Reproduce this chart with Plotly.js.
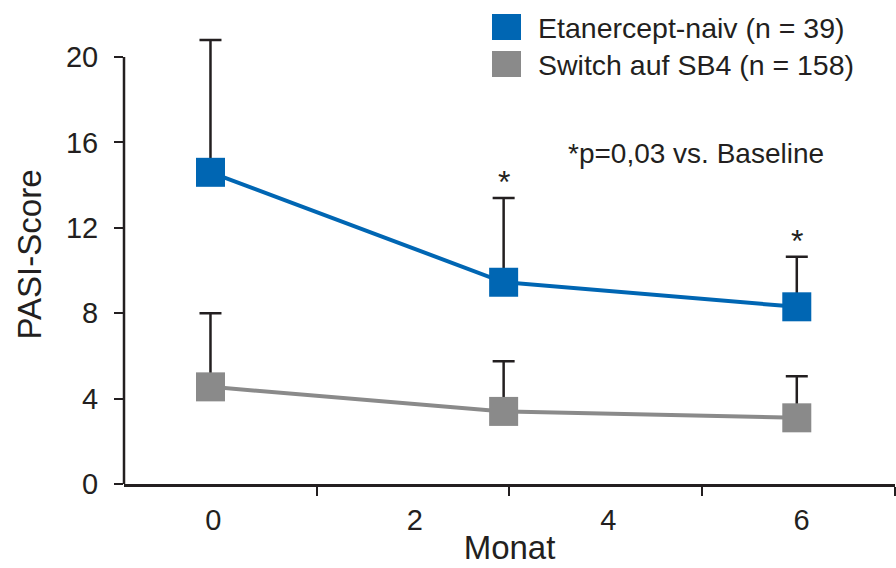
<!DOCTYPE html>
<html>
<head>
<meta charset="utf-8">
<script src="https://cdn.plot.ly/plotly-3.0.1.min.js"></script>
<style>html,body{margin:0;padding:0;background:#fff;}#chart{width:896px;height:568px;}</style>
</head>
<body>
<div id="chart"></div>
<script>
// ---- data ----
var months = [0, 3, 6];
var naivMean = [14.6, 9.45, 8.3];
var naivSD = [6.2, 3.95, 2.35];
var switchMean = [4.55, 3.4, 3.1];
var switchSD = [3.45, 2.35, 1.95];
var seriesNames = ["Etanercept-naiv (n = 39)", "Switch auf SB4 (n = 158)"];
var xTickText = ["0", "2", "4", "6"];
var yTickVals = [0, 4, 8, 12, 16, 20];
var sigMonths = [3, 6];
var noteText = "*p=0,03 vs. Baseline";

// ---- style / layout positions ----
var xLabelPos = [0.03, 2.09, 4.07, 6.05];
var xTickMarkPos = [1.09, 3.05, 5.03, 7.0];
var BLUE = "#0066b3", GRAY = "#8a8a8a", INK = "#231f20";
var FONT = "Liberation Sans, Arial, sans-serif";
var M = {l: 124, r: 1, t: 25, b: 84};
var W = 896, H = 568;
var PW = W - M.l - M.r, PH = H - M.t - M.b;
function px2paperX(px){ return (px - M.l) / PW; }
function px2paperY(py){ return (PH - (py - M.t)) / PH; }

function zeros(a){ return a.map(function(){ return 0; }); }

var traces = [
  {x: months, y: switchMean, mode: "lines+markers", type: "scatter",
   line: {color: GRAY, width: 4}, marker: {symbol: "square", size: 29, color: GRAY},
   error_y: {type: "data", symmetric: false, array: switchSD, arrayminus: zeros(switchSD),
             color: INK, thickness: 2.5, width: 11}, showlegend: false, cliponaxis: false},
  {x: months, y: naivMean, mode: "lines+markers", type: "scatter",
   line: {color: BLUE, width: 4}, marker: {symbol: "square", size: 29, color: BLUE},
   error_y: {type: "data", symmetric: false, array: naivSD, arrayminus: zeros(naivSD),
             color: INK, thickness: 2.5, width: 11}, showlegend: false, cliponaxis: false}
];

var annotations = [];
sigMonths.forEach(function(m){
  var i = months.indexOf(m);
  annotations.push({x: m, y: naivMean[i] + naivSD[i], xref: "x", yref: "y",
    text: "*", showarrow: false, yanchor: "bottom", yshift: -4,
    font: {family: FONT, size: 32, color: INK}});
});
annotations.push({x: px2paperX(696), y: px2paperY(153), xref: "paper", yref: "paper", text: noteText,
  showarrow: false, xanchor: "center", yanchor: "middle",
  font: {family: FONT, size: 28, color: INK}});

// legend (manual, large squares)
var legendColors = [BLUE, GRAY];
var legendY = [27, 64];
var shapes = [];
seriesNames.forEach(function(name, k){
  var yp = legendY[k];
  shapes.push({type: "rect", xref: "paper", yref: "paper",
    x0: px2paperX(492), x1: px2paperX(521),
    y0: px2paperY(yp - 13), y1: px2paperY(yp + 13),
    fillcolor: legendColors[k], line: {width: 0}});
  annotations.push({x: px2paperX(536), y: px2paperY(yp + 1), xref: "paper", yref: "paper",
    text: name, showarrow: false, xanchor: "left", yanchor: "middle",
    font: {family: FONT, size: 28.5, color: INK}});
});

// y axis line from 0 to 20
shapes.push({type: "line", xref: "paper", yref: "y", x0: 0, x1: 0, y0: 0, y1: 20,
  line: {color: INK, width: 2.5}});

var layout = {
  width: W, height: H,
  margin: M,
  paper_bgcolor: "#fff", plot_bgcolor: "#fff",
  font: {family: FONT, color: INK},
  xaxis: {range: [-0.885, 7.005], tickvals: xLabelPos, ticktext: xTickText,
    ticks: "", showline: true, linecolor: INK, linewidth: 2.5, showgrid: false, zeroline: false,
    tickfont: {size: 29, color: INK}, ticklabelstandoff: 9,
    minor: {tickvals: xTickMarkPos, ticks: "outside", ticklen: 9, tickwidth: 2, tickcolor: INK, showgrid: false},
    title: {text: "Monat", font: {size: 33, color: INK}, standoff: 1}, automargin: false, fixedrange: true},
  yaxis: {range: [0, 21.5], tickvals: yTickVals, ticks: "outside", ticklen: 9, tickwidth: 2, tickcolor: INK,
    showline: false, showgrid: false, zeroline: false,
    tickfont: {size: 29, color: INK}, ticklabelstandoff: 10,
    title: {text: "PASI-Score", font: {size: 33, color: INK}, standoff: 14}, automargin: false, fixedrange: true},
  shapes: shapes,
  annotations: annotations,
  showlegend: false
};

Plotly.newPlot("chart", traces, layout, {displayModeBar: false, staticPlot: true});
</script>
</body>
</html>
